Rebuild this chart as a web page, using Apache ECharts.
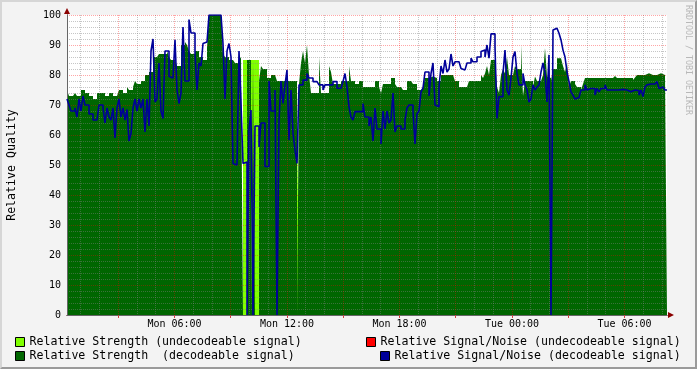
<!DOCTYPE html>
<html><head><meta charset="utf-8">
<script src="https://cdn.jsdelivr.net/npm/echarts@6/dist/echarts.min.js"></script>
<style>
html,body{margin:0;padding:0;background:#f3f3f3;}
#wrap{position:relative;width:697px;height:369px;overflow:hidden;}
#chart{position:absolute;left:0;top:0;width:697px;height:369px;}
#frame{position:absolute;left:0;top:0;width:697px;height:369px;box-sizing:border-box;border-top:2px solid #d6d6d6;border-left:2px solid #d6d6d6;border-right:2px solid #9a9a9a;border-bottom:2px solid #9a9a9a;pointer-events:none;}
</style></head><body>
<div id="wrap"><div id="chart"></div><div id="frame"></div></div>
<script>
// ---- time base (hours since Mon 00:00) ----
const startHour = 0.2667;      // first sample, Mon ~00:16
const stepHours = 0.10667;     // 6.4 minutes per sample
const dayNames = ['Mon', 'Tue'];
const xLabelHours = [6, 12, 18, 24, 30];
const majorGridHours = [3, 6, 9, 12, 15, 18, 21, 24, 27, 30];
const minorGridHours = [1, 2, 4, 5, 7, 8, 10, 11, 13, 14, 16, 17, 19, 20, 22, 23, 25, 26, 28, 29, 31, 32];

// ---- series names ----
const nameStrengthBad = 'Relative Strength (undecodeable signal)';
const nameStrengthOk  = 'Relative Strength  (decodeable signal)';
const nameSnrBad      = 'Relative Signal/Noise (undecodeable signal)';
const nameSnrOk       = 'Relative Signal/Noise (decodeable signal)';

// ---- values ----
const strengthDecodeable = [
75,73,73,73,74,73,73,75,75,74,
74,73,73,72,72,74,74,74,74,73,
73,74,74,73,73,73,75,75,74,74,
76,75,75,76,78,77,77,78,78,80,
80,81,81,86,86,86,87,87,87,87,
88,86,85,85,85,83,83,90,90,91,
90,88,87,87,88,88,86,86,85,85,
89,100,100,100,100,100,100,100,87,86,
86,85,85,85,84,84,85,86,0,0,
85,85,0,84,0,0,78,83,82,82,
79,79,80,80,80,78,78,78,78,78,
78,78,78,78,78,0,77,84,88,84,
90,80,74,74,74,74,86,74,74,74,
74,83,81,77,77,77,77,78,78,78,
78,83,78,78,77,77,78,78,76,76,
76,76,76,76,78,78,76,74,77,77,
77,77,79,79,77,76,76,76,75,75,
78,78,78,77,77,75,75,75,76,79,
79,79.5,79.5,79.5,79,78,78,80,80,80,
80,80,80,79.5,78,78,76,76,76,76,
76,78,78,78,78,78,78,80,79,80.5,
83,80,85,85,85,76,74,80,82,80.5,
86,80,80,79.5,83,82,82,90,73,78,
78,78,78,76,79.5,78,78,78,80,89,
79.5,79,78,82,82,85.6,85.6,85,83,81,
84,76,78,78,77,76,76,75,77,79,
79,79,79,79,79,79,79,79.5,79,79,
79,79.5,79,79,79.7,79,79,79,79,79,
79,79,79,78.3,79.2,80,80,80,80,80,
80.6,80,80,80,80,80,80.6,80,80,80
];
// [sample index, value]
const strengthUndecodeable = [[88,85],[89,85],[90,85],[91,85],[92,85],[93,85],[94,85],[95,85],[96,85],[115,76]];
const snrDecodeable = [
72,70,68,68,69,66,72,68,73,70,
70,67,67,65,65,65,70,70,69,64,
69,66,65,69,59,69,72,66,69,65,
68.5,58,60.5,69,72,68,72,69,72,61,
72,63,88,92,71,72,84,68,65.5,88,
88,79.5,79,79,91.7,75,70.5,74,96,78,
78,98.5,94,94,87,75,84,83,90.5,91,
91,100,100,100,100,100,100,100,90.5,72,
88,90.5,86,50.5,50,50,88,70.5,50.5,51,
0,61.7,68.3,0,63,63,56,64,64,49.5,
49.5,78,68,68,75,0,65,78,70.5,76.7,
81.7,58.3,75,60.5,55,50.5,76.7,76.7,78.3,78.3,
80.5,79,79,77.8,77.8,77.8,76.7,76.7,75,76.7,
76.7,76.7,76.7,77.8,77.8,75.6,75.6,75.6,77.8,80.5,
76,69.4,66,65,67.8,67.8,67.8,67.8,70.5,66,
66,63,66,58,69,62,62,57,68,62,
68,64,65,74,61,63,63,62,62,65,
69,70,70,68,57,67,68,74.4,75.6,81,
81,73,80.5,84,70,69.4,76,83,80.5,85,
81,82,87,83,84.4,84.4,83.9,82.2,81.7,81.1,
84,84,85.6,84.4,84.4,86,86,87.8,88.3,86,
90,85.6,93.7,93.7,89.4,65.5,72.8,72.8,80.5,88.3,
75,73.3,79,86,87.8,80.5,76.7,76.7,80.5,76.7,
75,71,72,76.7,75,76,76.7,81,84,80.5,
71,86.7,0,95,95.6,95,93.9,91.7,88.3,86,
81,77.8,74.4,73.3,72,72.5,72.5,75,75,76.7,
75,75.5,75.5,75.5,73.3,75.5,74.4,75.5,75.5,76.7,
75,75,74.5,75,75,75,75.2,75.2,75,75,
74.5,74.4,75,75,75,74.8,73.3,75,72.8,76,
76.7,77,77,77,77,77.8,75.5,76,76,75
];
const snrUndecodeable = [];

// ---- build step data ----
const nSamples = strengthDecodeable.length;
const endHour = startHour + nSamples * stepHours;
function stepData(vals) {
  const d = vals.map((v, i) => [startHour + i * stepHours, v]);
  d.push([endHour, vals[vals.length - 1]]);
  return d;
}
const weakVals = strengthDecodeable.map(() => 0);
strengthUndecodeable.forEach(([i, v]) => { weakVals[i] = v; });

const MONO = '"DejaVu Sans Mono", monospace';
function fmtHour(v) {
  const d = Math.floor(v / 24 + 1e-6);
  const h = Math.round(v - d * 24);
  return dayNames[d] + ' ' + String(h).padStart(2, '0') + ':00';
}
const majorGridStyle = { color: 'rgba(255,0,0,0.35)', type: [1, 1], width: 1 };
const minorGridStyle = { color: 'rgba(128,128,128,0.45)', type: [1, 1], width: 1 };

const legendBase = {
  orient: 'horizontal', padding: 0, itemWidth: 9, itemHeight: 9, icon: 'rect',
  selectedMode: false, itemStyle: { borderColor: '#000', borderWidth: 1 },
  textStyle: { fontFamily: MONO, fontSize: 11.6, color: '#000' }
};

const chart = echarts.init(document.getElementById('chart'), null, { renderer: 'canvas' });
chart.setOption({
  animation: false,
  backgroundColor: '#f3f3f3',
  grid: { left: 67, top: 15, width: 600, height: 300, show: true, backgroundColor: '#ffffff', borderWidth: 0,
          containLabel: false, outerBoundsMode: 'none' },
  xAxis: [
    {
      type: 'value', min: startHour, max: endHour, position: 'bottom', z: 4,
      axisLine: { show: true, lineStyle: { color: '#666', width: 1 } },
      axisTick: { show: true, customValues: majorGridHours, length: 3, lineStyle: { color: '#d04040' } },
      axisLabel: { customValues: xLabelHours, formatter: fmtHour, fontFamily: MONO, fontSize: 10, color: '#000', margin: 4 },
      splitLine: { show: true, lineStyle: majorGridStyle }
    },
    {
      type: 'value', min: startHour, max: endHour, position: 'bottom', offset: 0, z: 3,
      axisLine: { show: true, symbol: ['none', 'triangle'], symbolSize: [6, 6], symbolOffset: [0, 4], lineStyle: { color: '#8b0000' } },
      axisTick: { show: false, customValues: minorGridHours },
      axisLabel: { show: false },
      splitLine: { show: true, lineStyle: minorGridStyle }
    }
  ],
  yAxis: [
    {
      type: 'value', min: 0, max: 100, interval: 10, position: 'left', z: 4,
      name: 'Relative Quality', nameLocation: 'middle', nameGap: 49,
      nameTextStyle: { fontFamily: MONO, fontSize: 11.6, color: '#000' },
      axisLine: { show: true, lineStyle: { color: '#666' } },
      axisTick: { show: false },
      axisLabel: { fontFamily: MONO, fontSize: 10, color: '#000', margin: 6 },
      splitLine: { show: true, lineStyle: majorGridStyle },
      minorTick: { show: false, splitNumber: 5 },
      minorSplitLine: { show: true, lineStyle: minorGridStyle }
    },
    {
      type: 'value', min: 0, max: 100, position: 'left', offset: 0, z: 3,
      axisLine: { show: true, symbol: ['none', 'triangle'], symbolSize: [6, 6], symbolOffset: [0, 4], lineStyle: { color: '#8b0000' } },
      axisTick: { show: false }, axisLabel: { show: false }, splitLine: { show: false }
    }
  ],
  legend: [
    Object.assign({}, legendBase, { data: [nameStrengthBad], left: 15, top: 336 }),
    Object.assign({}, legendBase, { data: [nameStrengthOk], left: 15, top: 350 }),
    Object.assign({}, legendBase, { data: [nameSnrBad], left: 366, top: 336 }),
    Object.assign({}, legendBase, { data: [nameSnrOk], left: 380, top: 350 })
  ],
  graphic: [{
    type: 'text', x: 688, y: 5, rotation: -Math.PI / 2, silent: true,
    style: { text: 'RRDTOOL / TOBI OETIKER', fill: '#b8b8b8', fontFamily: 'DejaVu Sans Mono', fontSize: 8.3, align: 'left', verticalAlign: 'middle' }
  }],
  series: [
    {
      name: nameStrengthBad, type: 'line', step: 'end', data: stepData(weakVals), symbol: 'none', z: 1,
      color: '#80ff00', itemStyle: { color: '#80ff00' },
      lineStyle: { width: 0 }, areaStyle: { color: '#80ff00', opacity: 1 }
    },
    {
      name: nameStrengthOk, type: 'line', step: 'end', data: stepData(strengthDecodeable), symbol: 'none', z: 2,
      color: '#006600', itemStyle: { color: '#006600' },
      lineStyle: { width: 0 }, areaStyle: { color: '#006600', opacity: 1 }
    },
    {
      name: nameSnrBad, type: 'line', step: 'end', data: snrUndecodeable, symbol: 'none', z: 5,
      color: '#ff0000', itemStyle: { color: '#ff0000' }, lineStyle: { width: 1.6, color: '#ff0000' }
    },
    {
      name: nameSnrOk, type: 'line', step: 'end', data: stepData(snrDecodeable), symbol: 'none', z: 5,
      color: '#000099', itemStyle: { color: '#000099' }, lineStyle: { width: 1.6, color: '#000099' }
    }
  ]
});
</script></body></html>
